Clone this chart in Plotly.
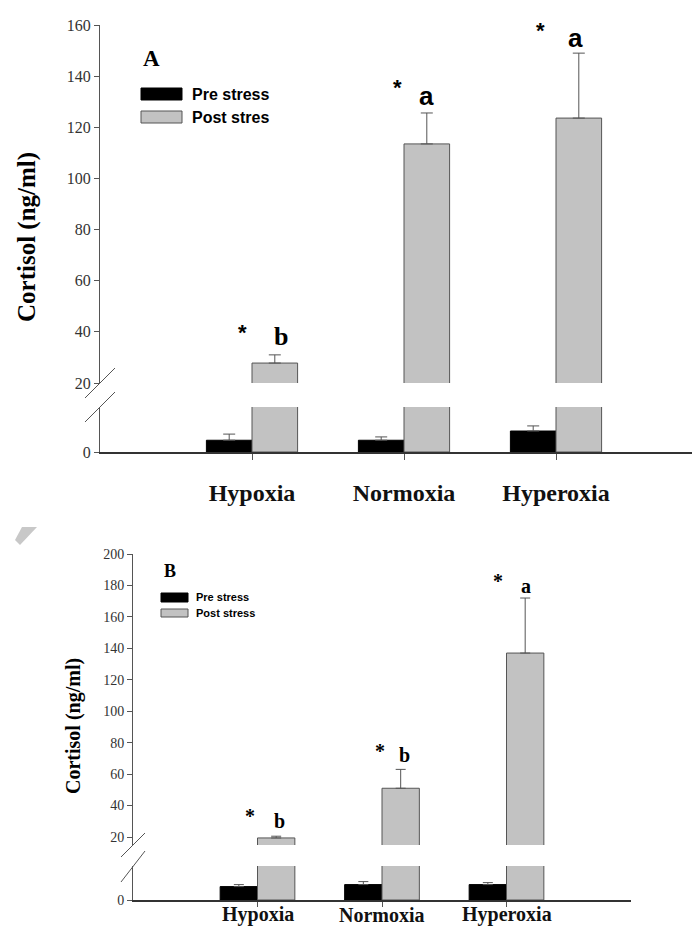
import plotly.graph_objects as go

# ---------------- data ----------------
categories = ["Hypoxia", "Normoxia", "Hyperoxia"]
cat_pos = [1, 2, 3]

# Panel A
a_pre = [4.6, 4.6, 8.2]
a_pre_err = [2.4, 1.3, 2.0]
a_post = [27.8, 113.5, 123.6]
a_post_err = [3.2, 12.1, 25.4]
a_star_x = [0.94, 1.96, 2.90]
a_star_y = [39.9, 135.4, 158.0]
a_letter = ["b", "a", "a"]
a_letter_x = [1.19, 2.145, 3.13]
a_letter_y = [38.0, 132.2, 155.0]

# Panel B
b_pre = [6.7, 7.7, 7.7]
b_pre_err = [1.0, 1.5, 1.0]
b_post = [19.4, 51.0, 137.0]
b_post_err = [1.1, 12.0, 35.0]
b_star_x = [0.94, 1.98, 2.93]
b_star_y = [33.4, 74.7, 182.8]
b_letter = ["b", "b", "a"]
b_letter_x = [1.18, 2.18, 3.16]
b_letter_y = [30.2, 72.2, 179.7]

a_yticks_upper = [20, 40, 60, 80, 100, 120, 140, 160]
b_yticks_upper = [20, 40, 60, 80, 100, 120, 140, 160, 180, 200]
b_lower_max = 17

# ---------------- layout helpers ----------------
PAGE_W, PAGE_H = 700, 936
OFF = 8  # default page body margin
W, H = PAGE_W - 2 * OFF, PAGE_H - 2 * OFF
def px(x):
    return (x - OFF) / W
def py(y):
    return 1 - (y - OFF) / H

PRE_COLOR = "#000000"
POST_COLOR = "#c2c2c2"
EDGE = "#555555"
SERIF = "Liberation Serif, Times New Roman, serif"
SANS = "Liberation Sans, Arial, sans-serif"

fig = go.Figure()

def add_pair(pre, pre_err, post, post_err, xa_low, ya_low, xa_up, ya_up, capw):
    for (xa, ya, show_err_pre, show_err_post) in [(xa_low, ya_low, True, False), (xa_up, ya_up, False, True)]:
        fig.add_trace(go.Bar(
            x=cat_pos, y=pre, width=0.3, offset=-0.3,
            marker=dict(color=PRE_COLOR, line=dict(color="#000000", width=1)),
            error_y=dict(type="data", symmetric=False, array=pre_err, arrayminus=[0]*3,
                         color=EDGE, thickness=1, width=capw, visible=show_err_pre),
            xaxis=xa, yaxis=ya, showlegend=False, name="Pre stress"))
        fig.add_trace(go.Bar(
            x=cat_pos, y=post, width=0.3, offset=0,
            marker=dict(color=POST_COLOR, line=dict(color=EDGE, width=1)),
            error_y=dict(type="data", symmetric=False, array=post_err, arrayminus=[0]*3,
                         color=EDGE, thickness=1, width=capw, visible=show_err_post),
            xaxis=xa, yaxis=ya, showlegend=False, name="Post stress"))

add_pair(a_pre, a_pre_err, a_post, a_post_err, "x", "y", "x2", "y2", 6)
add_pair(b_pre, b_pre_err, b_post, b_post_err, "x3", "y3", "x4", "y4", 5)

# ---------------- axes ----------------
A_LEFT, A_RIGHT = 100, 700
A_TOP, A_BRK_UP, A_BRK_LO, A_ZERO = 25, 383, 407, 452
B_LEFT, B_RIGHT = 133, 631
B_TOP, B_BRK_UP, B_BRK_LO, B_ZERO = 554, 845, 866, 900

a_scale = (A_BRK_UP - A_TOP) / (160 - 20)
b_scale = (837 - B_TOP) / (200 - 20)
A_RIGHT_EFF = min(A_RIGHT, OFF + W)

xcommon = dict(showgrid=False, zeroline=False, fixedrange=True, automargin=False)
ycommon = dict(showgrid=False, zeroline=False, showline=True, linecolor="#555555", linewidth=1,
               ticks="outside", tickcolor="#555555", ticklen=5, tickwidth=1, automargin=False)

fig.update_layout(
    width=W, height=H, margin=dict(l=0, r=0, t=0, b=0, autoexpand=False),
    paper_bgcolor="white", plot_bgcolor="rgba(0,0,0,0)",
    barmode="overlay", showlegend=False,
    xaxis=dict(domain=[px(A_LEFT), px(A_RIGHT_EFF)], range=[0, (A_RIGHT_EFF - A_LEFT) / 152.0], anchor="y",
               showline=True, linecolor="#333333", linewidth=1.5,
               ticks="outside", tickcolor="#555555", ticklen=6, tickwidth=1,
               tickvals=cat_pos, ticktext=["<b>%s</b>" % c for c in categories],
               tickfont=dict(family=SERIF, size=24, color="#111111"),
               ticklabelstandoff=12, **xcommon),
    xaxis2=dict(domain=[px(A_LEFT), px(A_RIGHT_EFF)], matches="x", anchor="y2", visible=False, **xcommon),
    yaxis=dict(domain=[py(A_ZERO), py(A_BRK_LO)], range=[0, (A_ZERO - A_BRK_LO) / a_scale], anchor="x",
               tickvals=[0], tickfont=dict(family=SERIF, size=16, color="#333333"), **ycommon),
    yaxis2=dict(domain=[py(A_BRK_UP), py(A_TOP)], range=[20, 160], anchor="x2",
                tickvals=a_yticks_upper, tickfont=dict(family=SERIF, size=16, color="#333333"), **ycommon),
    xaxis3=dict(domain=[px(B_LEFT), px(B_RIGHT)], range=[0, 4], anchor="y3",
                showline=True, linecolor="#333333", linewidth=1.5,
                ticks="outside", tickcolor="#555555", ticklen=5, tickwidth=1,
                tickvals=cat_pos, showticklabels=False, **xcommon),
    xaxis4=dict(domain=[px(B_LEFT), px(B_RIGHT)], matches="x3", anchor="y4", visible=False, **xcommon),
    yaxis3=dict(domain=[py(B_ZERO), py(B_BRK_LO)], range=[0, b_lower_max], anchor="x3",
                tickvals=[0], tickfont=dict(family=SERIF, size=14, color="#333333"), **ycommon),
    yaxis4=dict(domain=[py(B_BRK_UP), py(B_TOP)], range=[200 - (B_BRK_UP - B_TOP) / b_scale, 200], anchor="x4",
                tickvals=b_yticks_upper, tickfont=dict(family=SERIF, size=14, color="#333333"), **ycommon),
)

# ---------------- break marks, legends, decorations ----------------
shapes = []
def brk(x0, y0, x1, y1):
    shapes.append(dict(type="line", xref="paper", yref="paper", x0=px(x0), y0=py(y0), x1=px(x1), y1=py(y1),
                       line=dict(color="#555555", width=1)))
brk(A_LEFT - 15, A_BRK_UP + 15, A_LEFT + 15, A_BRK_UP - 15)
brk(A_LEFT - 15, A_BRK_LO + 15, A_LEFT + 15, A_BRK_LO - 15)
brk(B_LEFT - 12, B_BRK_UP + 12, B_LEFT + 12, B_BRK_UP - 12)
brk(B_LEFT - 12, B_BRK_LO + 16, B_LEFT + 12, B_BRK_LO - 15)

def rect(x0, y0, x1, y1, color, edge):
    shapes.append(dict(type="rect", xref="paper", yref="paper", x0=px(x0), y0=py(y0), x1=px(x1), y1=py(y1),
                       fillcolor=color, line=dict(color=edge, width=1)))
rect(141, 88, 182, 100, PRE_COLOR, "#000000")
rect(141, 111, 182, 123, POST_COLOR, EDGE)
rect(161, 593, 188, 602, PRE_COLOR, "#000000")
rect(161, 609, 188, 617, POST_COLOR, EDGE)

shapes.append(dict(type="path", xref="paper", yref="paper",
                   path="M %f %f L %f %f L %f %f L %f %f Z" % (px(22), py(527), px(37), py(527), px(20), py(545), px(15), py(540)),
                   fillcolor="#c8c8c8", line=dict(width=0)))
fig.update_layout(shapes=shapes)

ann = []
def txt(x, y, s, size, family, xref="paper", yref="paper", xanchor="center", angle=0, color="#000000",
        yanchor="middle"):
    ann.append(dict(x=x, y=y, xref=xref, yref=yref, text=s, showarrow=False, xanchor=xanchor,
                    yanchor=yanchor, textangle=angle, font=dict(family=family, size=size, color=color)))

txt(px(151), py(59), "<b>A</b>", 23, SERIF)
txt(px(190), py(94), "<b>Pre stress</b>", 16, SANS, xanchor="left")
txt(px(190), py(117), "<b>Post stres</b>", 16, SANS, xanchor="left")
txt(px(170), py(571), "<b>B</b>", 18, SERIF)
txt(px(194), py(597), "<b>Pre stress</b>", 11, SANS, xanchor="left")
txt(px(194), py(613), "<b>Post stress</b>", 11, SANS, xanchor="left")

txt(px(27), py(237), "<b>Cortisol (ng/ml)</b>", 25, SERIF, angle=-90)
txt(px(73), py(726), "<b>Cortisol (ng/ml)</b>", 20, SERIF, angle=-90)

# panel B category labels (placed on the x3 category positions, kept inside the page bottom)
for c, p in zip(categories, cat_pos):
    txt(p, 0, "<b>%s</b>" % c, 20, SERIF, xref="x3", yref="paper", yanchor="bottom", color="#111111")

for i in range(3):
    txt(a_star_x[i], a_star_y[i], "<b>*</b>", 22, SANS, xref="x2", yref="y2")
    fam = SERIF if a_letter[i] == "b" else SANS
    txt(a_letter_x[i], a_letter_y[i], "<b>%s</b>" % a_letter[i], 26, fam, xref="x2", yref="y2")
    txt(b_star_x[i], b_star_y[i], "<b>*</b>", 20, SERIF, xref="x4", yref="y4")
    txt(b_letter_x[i], b_letter_y[i], "<b>%s</b>" % b_letter[i], 20, SERIF, xref="x4", yref="y4")

fig.update_layout(annotations=ann)

fig.write_html("out.html")
